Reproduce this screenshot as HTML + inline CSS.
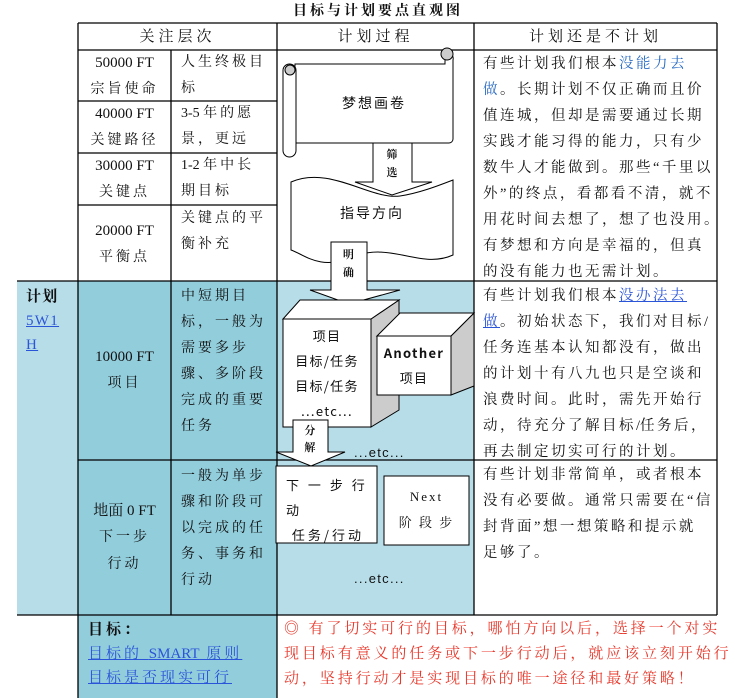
<!DOCTYPE html>
<html><head><meta charset="utf-8"><style>
body{margin:0;width:735px;height:698px;background:#fff;position:relative;overflow:hidden;font-family:"Liberation Serif","Noto Serif CJK SC",serif;color:#111}
.a{position:absolute;box-sizing:border-box}
.t{position:absolute;font-size:14px;line-height:26px;letter-spacing:1.3px;white-space:nowrap}
.c{text-align:center}
.r{letter-spacing:2.5px;font-size:14.5px}
.m{letter-spacing:3px;font-size:14px}
.l{letter-spacing:0}
a{color:#2b55d8;text-decoration:underline}
</style></head><body>
<div class="a" style="left:17px;top:281px;width:61px;height:334px;background:#b7dde8"></div>
<div class="a" style="left:78px;top:281px;width:199px;height:417px;background:#92cddc"></div>
<div class="a" style="left:277px;top:281px;width:197px;height:334px;background:#b7dde8"></div>
<svg class="a" style="left:0;top:0" width="735" height="698">
<g stroke="#000" stroke-width="1.3" fill="none">
<line x1="78" y1="23" x2="717" y2="23"/>
<line x1="78" y1="50" x2="717" y2="50"/>
<line x1="78" y1="101" x2="277" y2="101"/>
<line x1="78" y1="153" x2="277" y2="153"/>
<line x1="78" y1="205" x2="277" y2="205"/>
<line x1="17" y1="281" x2="717" y2="281"/>
<line x1="78" y1="460" x2="717" y2="460"/>
<line x1="17" y1="615" x2="717" y2="615"/>
<line x1="78" y1="23" x2="78" y2="698"/>
<line x1="171" y1="50" x2="171" y2="615"/>
<line x1="277" y1="23" x2="277" y2="698"/>
<line x1="474" y1="23" x2="474" y2="615"/>
<line x1="717" y1="23" x2="717" y2="615"/>
</g>
<g stroke="#000" stroke-width="1" fill="#fff">
<path d="M295,64 L445,64 L445,53 A6,6 0 0 1 453,60 L453,139 A4,4 0 0 1 449,143 L295,143 Z"/>
<circle cx="447" cy="54" r="6" fill="#ccc"/>
<rect x="283" y="64" width="13" height="93" rx="6.5"/>
<circle cx="290" cy="70" r="5" fill="#ccc"/>
<path d="M291,182 C330,165 370,200 400,196 C420,193 440,185 453,180 L453,255 C420,270 390,240 350,258 C320,270 305,255 291,250 Z"/>
<path d="M373,143 L412,143 L412,182 L432,182 L392,195 L355,182 L373,182 Z"/>
<path d="M331,242 L367,242 L367,290 L400,290 L349,304 L310,290 L331,290 Z"/>
<path d="M371,319 L399,300 L399,410 L371,427 Z" fill="#ccc"/>
<path d="M283,319 L300,300 L399,300 L371,319 Z"/>
<rect x="283" y="319" width="88" height="108"/>
<path d="M451,336 L474,313 L474,386 L451,395 Z" fill="#ccc"/>
<path d="M377,336 L400,313 L474,313 L451,336 Z"/>
<rect x="377" y="336" width="74" height="59"/>
<rect x="276" y="466" width="101" height="77"/>
<rect x="384" y="476" width="85" height="69"/>
<path d="M293,420 L328,420 L328,452 L345,452 L311,466 L276,452 L293,452 Z"/>
</g>
</svg>
<div class="t c" style="left:200px;top:0;width:356px;font-weight:bold;line-height:24px;letter-spacing:3px">目标与计划要点直观图</div>
<div class="t c" style="left:78px;top:24px;width:199px;letter-spacing:4px;font-size:15px">关注层次</div>
<div class="t c" style="left:277px;top:24px;width:197px;letter-spacing:4px;font-size:15px">计划过程</div>
<div class="t c" style="left:474px;top:24px;width:243px;letter-spacing:4px;font-size:15px">计划还是不计划</div>
<div class="t c" style="left:78px;top:50px;width:93px;font-size:15px;letter-spacing:0">50000 FT<br><span class="m">宗旨使命</span></div>
<div class="t m" style="left:181px;top:50px">人生终极目<br>标</div>
<div class="t c" style="left:78px;top:101px;width:93px;font-size:15px;letter-spacing:0">40000 FT<br><span class="m">关键路径</span></div>
<div class="t m" style="left:181px;top:101px"><span class="l">3-5 </span>年的愿<br>景，更远</div>
<div class="t c" style="left:78px;top:153px;width:93px;font-size:15px;letter-spacing:0">30000 FT<br><span class="m">关键点</span></div>
<div class="t m" style="left:181px;top:153px"><span class="l">1-2 </span>年中长<br>期目标</div>
<div class="t c" style="left:78px;top:218px;width:93px;font-size:15px;letter-spacing:0">20000 FT<br><span class="m">平衡点</span></div>
<div class="t m" style="left:181px;top:206px">关键点的平<br>衡补充</div>
<div class="t" style="left:26px;top:285px;line-height:24px;font-size:15px;font-weight:bold">计划<br><a style="font-weight:normal">5W1</a><br><a style="font-weight:normal">H</a></div>
<div class="t c" style="left:78px;top:344px;width:93px;font-size:15px;letter-spacing:0">10000 FT<br><span class="m">项目</span></div>
<div class="t m" style="left:181px;top:284px">中短期目<br>标，一般为<br>需要多步<br>骤、多阶段<br>完成的重要<br>任务</div>
<div class="t c" style="left:78px;top:498px;width:93px;font-size:15px;letter-spacing:0">地面 0 FT<br><span class="m">下一步<br>行动</span></div>
<div class="t m" style="left:181px;top:464px">一般为单步<br>骤和阶段可<br>以完成的任<br>务、事务和<br>行动</div>
<div class="t m" style="left:88px;top:618px;line-height:24px;font-size:15px"><b>目标：</b><br><a>目标的 <span class="l">SMART</span> 原则</a><br><a>目标是否现实可行</a></div>
<div class="t" style="left:284px;top:617px;color:#e8382b;line-height:25px;letter-spacing:2.9px;font-size:15px">◎ 有了切实可行的目标，哪怕方向以后，选择一个对实<br>现目标有意义的任务或下一步行动后，就应该立刻开始行<br>动，坚持行动才是实现目标的唯一途径和最好策略！</div>
<div class="t r" style="left:483px;top:51px">有些计划我们根本<span style="color:#2b6cc4">没能力去</span><br><span style="color:#2b6cc4">做</span>。长期计划不仅正确而且价<br>值连城，但却是需要通过长期<br>实践才能习得的能力，只有少<br>数牛人才能做到。那些“千里以<br>外”的终点，看都看不清，就不<br>用花时间去想了，想了也没用。<br>有梦想和方向是幸福的，但真<br>的没有能力也无需计划。</div>
<div class="t r" style="left:483px;top:283px">有些计划我们根本<a>没办法去</a><br><a>做</a>。初始状态下，我们对目标<span class="l">/</span><br>任务连基本认知都没有，做出<br>的计划十有八九也只是空谈和<br>浪费时间。此时，需先开始行<br>动，待充分了解目标<span class="l">/</span>任务后，<br>再去制定切实可行的计划。</div>
<div class="t r" style="left:483px;top:462px">有些计划非常简单，或者根本<br>没有必要做。通常只需要在“信<br>封背面”想一想策略和提示就<br>足够了。</div>
<div class="t c" style="left:295px;top:90px;width:158px;font-size:14px;letter-spacing:2px;font-family:'Noto Sans CJK SC',sans-serif">梦想画卷</div>
<div class="t c" style="left:291px;top:200px;width:162px;font-size:14px;letter-spacing:2px;font-family:'Noto Sans CJK SC',sans-serif">指导方向</div>
<div class="t c" style="left:373px;top:146px;width:39px;font-size:11px;line-height:18px;font-weight:bold">筛<br>选</div>
<div class="t c" style="left:331px;top:246px;width:36px;font-size:11px;line-height:18px;font-weight:bold">明<br>确</div>
<div class="t c" style="left:293px;top:423px;width:35px;font-size:11px;line-height:17px;font-weight:bold">分<br>解</div>
<div class="t c" style="left:283px;top:323px;width:88px;font-size:13px;line-height:25px;font-family:'Noto Sans CJK SC',sans-serif">项目<br>目标/任务<br>目标/任务<br>...etc...</div>
<div class="t c" style="left:377px;top:340px;width:74px;font-size:13px;line-height:25px;font-family:'Noto Sans CJK SC',sans-serif"><b>Another</b><br>项目</div>
<div class="t" style="left:354px;top:440px;font-size:13px;font-family:'Liberation Sans',sans-serif">...etc...</div>
<div class="t" style="left:286px;top:472px;font-size:13px;line-height:25px;letter-spacing:3px;font-family:'Noto Sans CJK SC',sans-serif">下 一 步 行<br>动<br>&nbsp;任务/行动</div>
<div class="t c" style="left:384px;top:484px;width:85px;font-size:13px;line-height:26px;letter-spacing:2px">Next<br>阶 段 步</div>
<div class="t" style="left:354px;top:566px;font-size:13px;font-family:'Liberation Sans',sans-serif">...etc...</div>
</body></html>
